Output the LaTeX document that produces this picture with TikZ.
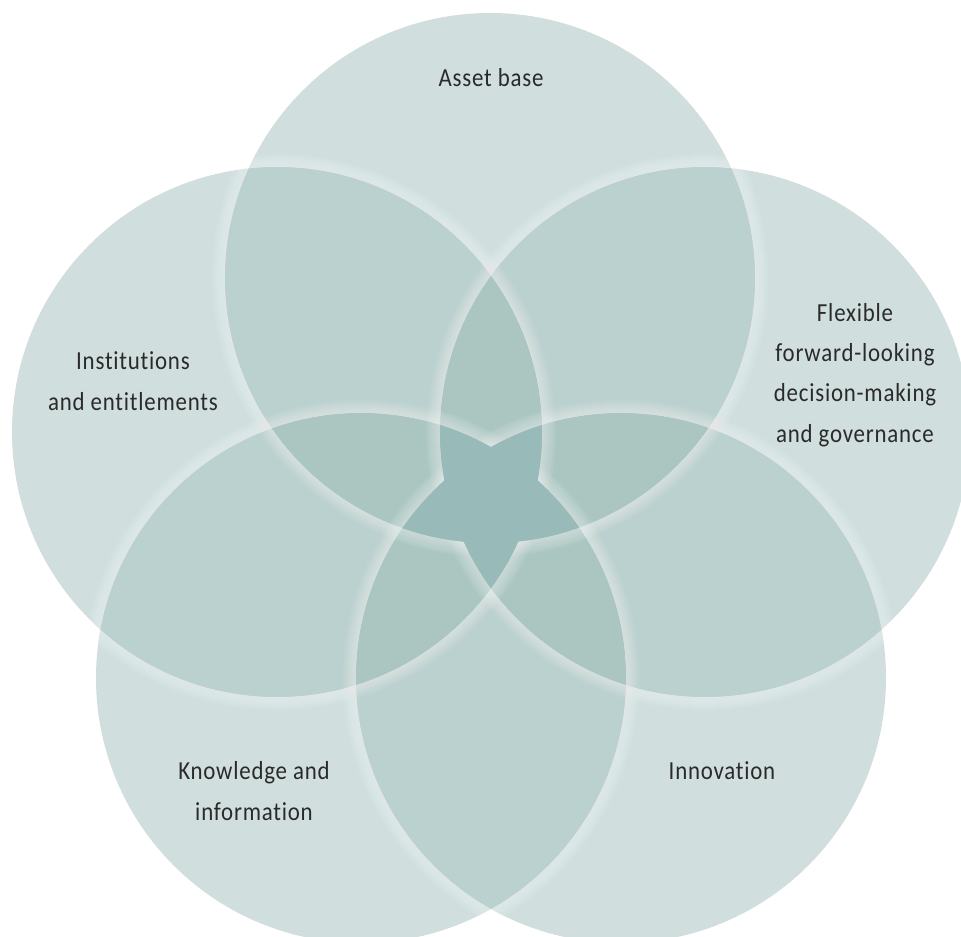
\documentclass[tikz,border=0pt]{standalone}
\usepackage{fontspec}
\setmainfont[LetterSpace=3,FakeStretch=0.88,Ligatures=CommonOff]{Carlito}
\definecolor{cOne}{HTML}{D0DEDD}
\definecolor{cTwo}{HTML}{BAD1CF}
\definecolor{cThree}{HTML}{ABC6C1}
\definecolor{cFour}{HTML}{98BAB8}
\definecolor{ink}{HTML}{2A2A2A}
\tikzset{
  label text/.style={text=ink,align=center,inner sep=0pt,font=\fontsize{19.5}{30.3}\selectfont},
}
\begin{document}
\begin{tikzpicture}[x=0.75pt,y=-0.75pt]
\useasboundingbox (0,0) rectangle (961,937);
\clip (0,0) rectangle (961,937);
\def\R{265}
\coordinate (T) at (490,278);
\coordinate (L) at (277,432);
\coordinate (G) at (705,432);
\coordinate (K) at (361,678);
\coordinate (V) at (621,678);
% one circle
\foreach \a in {T,L,G,K,V} \fill[cOne] (\a) circle (\R);
% at least two
\foreach \a/\b in {T/L,T/G,T/K,T/V,L/G,L/K,L/V,G/K,G/V,K/V}{
  \begin{scope}\clip (\a) circle (\R); \fill[cTwo] (\b) circle (\R);\end{scope}}
% at least three
\foreach \a/\b/\c in {T/L/G,T/L/K,T/L/V,T/G/K,T/G/V,T/K/V,L/G/K,L/G/V,L/K/V,G/K/V}{
  \begin{scope}\clip (\a) circle (\R); \clip (\b) circle (\R); \fill[cThree] (\c) circle (\R);\end{scope}}
% soft white glow outside every circle
\foreach \a in {T,L,G,K,V}{
  \foreach \k in {1,2,...,14}{
    \fill[white,fill opacity=0.038,even odd rule] (\a) circle (\R) (\a) circle ({\R+\k});
  }
}
% the central star: at least four, above the glow
\foreach \a/\b/\c/\d in {T/L/G/K,T/L/G/V,T/L/K/V,T/G/K/V,L/G/K/V}{
  \begin{scope}\clip (\a) circle (\R); \clip (\b) circle (\R); \clip (\c) circle (\R); \fill[cFour] (\d) circle (\R);\end{scope}}
\node[label text] (asset) at (491,78) {Asset base};
\node[label text] (inst) at (133,381) {Institutions\\and entitlements};
\node[label text] (flex) at (855,375) {Flexible\\forward-looking\\decision-making\\and governance};
\node[label text] (know) at (254,791) {Knowledge and\\information};
\node[label text] (innov) at (722,771) {Innovation};
\end{tikzpicture}
\end{document}
